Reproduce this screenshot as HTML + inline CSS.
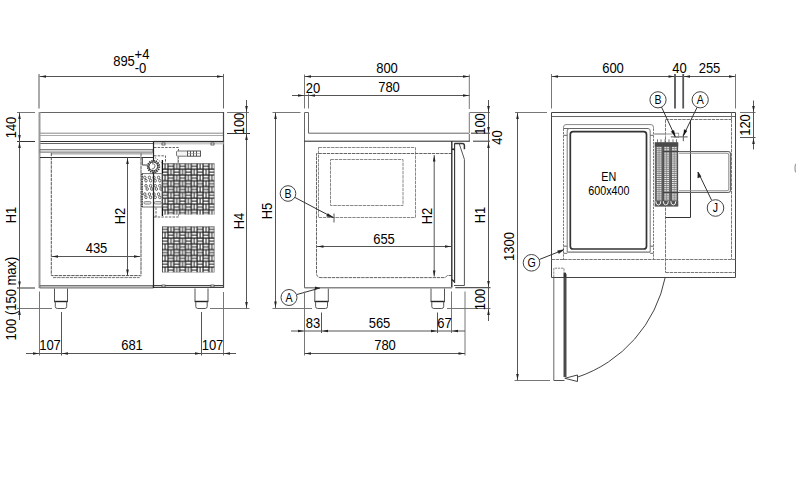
<!DOCTYPE html>
<html><head><meta charset="utf-8"><style>
html,body{margin:0;padding:0;background:#fff;width:796px;height:502px;overflow:hidden}
svg{display:block}
text{font-family:"Liberation Sans",sans-serif}
</style></head><body>
<svg width="796" height="502" viewBox="0 0 796 502">
<rect width="796" height="502" fill="#fff"/>
<line x1="39" y1="74" x2="39" y2="108.5" stroke="#aaa" stroke-width="2"/>
<line x1="223.5" y1="74" x2="223.5" y2="108.5" stroke="#666" stroke-width="1"/>
<line x1="39.5" y1="76.5" x2="223.5" y2="76.5" stroke="#555" stroke-width="1"/>
<polygon points="40.0,76.5 46.0,75.2 46.0,77.8" fill="#222"/>
<polygon points="223.0,76.5 217.0,75.2 217.0,77.8" fill="#222"/>
<text transform="translate(124,66) scale(0.93,1)" font-size="14" text-anchor="middle" fill="#000">895</text>
<text transform="translate(142,59) scale(0.93,1)" font-size="14" text-anchor="middle" fill="#000">+4</text>
<text transform="translate(140.5,72.5) scale(0.93,1)" font-size="14" text-anchor="middle" fill="#000">-0</text>
<line x1="39.5" y1="112.5" x2="223.5" y2="112.5" stroke="#666" stroke-width="1"/>
<line x1="39.5" y1="133.2" x2="223.5" y2="133.2" stroke="#888" stroke-width="1"/>
<line x1="39.5" y1="135.5" x2="223.5" y2="135.5" stroke="#aaa" stroke-width="1"/>
<line x1="39.5" y1="141.5" x2="223.5" y2="141.5" stroke="#333" stroke-width="1"/>
<line x1="40" y1="143.5" x2="153" y2="143.5" stroke="#666" stroke-width="1"/>
<line x1="39.5" y1="112" x2="39.5" y2="288" stroke="#999" stroke-width="2"/>
<line x1="223.5" y1="112" x2="223.5" y2="288" stroke="#444" stroke-width="1.2"/>
<line x1="17" y1="112.5" x2="35" y2="112.5" stroke="#777" stroke-width="1"/>
<line x1="17" y1="141.5" x2="35" y2="141.5" stroke="#333" stroke-width="1"/>
<line x1="17" y1="288" x2="35" y2="288" stroke="#333" stroke-width="1"/>
<line x1="17" y1="308.5" x2="52" y2="308.5" stroke="#777" stroke-width="1"/>
<line x1="19.5" y1="112.5" x2="19.5" y2="320" stroke="#555" stroke-width="1"/>
<polygon points="19.5,113.0 18.2,119.0 20.8,119.0" fill="#222"/>
<polygon points="19.5,141.0 18.2,135.0 20.8,135.0" fill="#222"/>
<polygon points="19.5,142.0 18.2,148.0 20.8,148.0" fill="#222"/>
<polygon points="19.5,287.5 18.2,281.5 20.8,281.5" fill="#222"/>
<polygon points="19.5,309.0 18.2,315.0 20.8,315.0" fill="#222"/>
<text transform="translate(16,127.5) rotate(-90) scale(0.93,1)" font-size="14" text-anchor="middle" fill="#000">140</text>
<text transform="translate(16,215) rotate(-90) scale(0.93,1)" font-size="14" text-anchor="middle" fill="#000">H1</text>
<text transform="translate(16,298.5) rotate(-90) scale(0.93,1)" font-size="14" text-anchor="middle" fill="#000">100 (150 max)</text>
<line x1="227" y1="112.5" x2="249" y2="112.5" stroke="#777" stroke-width="1"/>
<line x1="227" y1="133.5" x2="250" y2="133.5" stroke="#333" stroke-width="1"/>
<line x1="210" y1="308.5" x2="249.5" y2="308.5" stroke="#777" stroke-width="1"/>
<line x1="246.5" y1="100" x2="246.5" y2="308.5" stroke="#555" stroke-width="1"/>
<polygon points="246.5,112.0 245.2,106.0 247.8,106.0" fill="#222"/>
<polygon points="246.5,134.0 245.2,140.0 247.8,140.0" fill="#222"/>
<polygon points="246.5,308.0 245.2,302.0 247.8,302.0" fill="#222"/>
<text transform="translate(244,123.5) rotate(-90) scale(0.93,1)" font-size="14" text-anchor="middle" fill="#000">100</text>
<text transform="translate(244,221) rotate(-90) scale(0.93,1)" font-size="14" text-anchor="middle" fill="#000">H4</text>
<rect x="40" y="149.5" width="113" height="2.7" rx="0" stroke="#777" stroke-width="0.9" fill="#d8d8d8"/>
<rect x="51.5" y="153" width="101" height="1.6" rx="0" stroke="none" stroke-width="0" fill="#b8b8b8"/>
<line x1="40" y1="157.5" x2="153" y2="157.5" stroke="#333" stroke-width="1"/>
<path d="M141,153 L141,275.6 L51.3,275.6 L51.3,153" stroke="#555" stroke-width="1" fill="none" stroke-dasharray="3.4,0.8"/>
<line x1="53" y1="277.6" x2="139.7" y2="277.6" stroke="#777" stroke-width="1" stroke-dasharray="3.4,0.8"/>
<line x1="51.5" y1="256.5" x2="140.5" y2="256.5" stroke="#555" stroke-width="1"/>
<polygon points="52.0,256.5 58.0,255.2 58.0,257.8" fill="#222"/>
<polygon points="140.0,256.5 134.0,255.2 134.0,257.8" fill="#222"/>
<text transform="translate(96.5,253) scale(0.93,1)" font-size="14" text-anchor="middle" fill="#000">435</text>
<line x1="127.5" y1="157.5" x2="127.5" y2="276" stroke="#555" stroke-width="1"/>
<polygon points="127.5,158.0 126.2,164.0 128.8,164.0" fill="#222"/>
<polygon points="127.5,275.5 126.2,269.5 128.8,269.5" fill="#222"/>
<text transform="translate(124.5,216) rotate(-90) scale(0.93,1)" font-size="14" text-anchor="middle" fill="#000">H2</text>
<rect x="40" y="285.5" width="113" height="2.5" rx="0" stroke="#777" stroke-width="1" fill="#bbb"/>
<line x1="153.5" y1="141.5" x2="153.5" y2="288" stroke="#333" stroke-width="1"/>
<line x1="153.5" y1="141.4" x2="223.5" y2="141.4" stroke="#333" stroke-width="1"/>
<rect x="153.5" y="142" width="70" height="2.4" rx="0" stroke="none" stroke-width="0" fill="#c8c8c8"/>
<rect x="153.5" y="285.5" width="70" height="2" rx="0" stroke="#444" stroke-width="1" fill="#ccc"/>
<rect x="162.0" y="143" width="3" height="2" rx="0" stroke="#444" stroke-width="0.8" fill="#fff"/>
<rect x="162.0" y="285" width="3" height="2" rx="0" stroke="#444" stroke-width="0.8" fill="#fff"/>
<rect x="211.0" y="143" width="3" height="2" rx="0" stroke="#444" stroke-width="0.8" fill="#fff"/>
<rect x="211.0" y="285" width="3" height="2" rx="0" stroke="#444" stroke-width="0.8" fill="#fff"/>
<line x1="54.5" y1="288.5" x2="54.5" y2="301.5" stroke="#555" stroke-width="1"/>
<line x1="67.5" y1="288.5" x2="67.5" y2="301.5" stroke="#555" stroke-width="1"/>
<line x1="54.2" y1="301.5" x2="67.8" y2="301.5" stroke="#222" stroke-width="1.4"/>
<path d="M55.3,301.5 L55.3,306.5 Q55.3,308.5 57.3,308.5 L64.7,308.5 Q66.7,308.5 66.7,306.5 L66.7,301.5" stroke="#555" stroke-width="1" fill="none"/>
<line x1="195" y1="288.5" x2="195" y2="301.5" stroke="#555" stroke-width="1"/>
<line x1="208" y1="288.5" x2="208" y2="301.5" stroke="#555" stroke-width="1"/>
<line x1="194.7" y1="301.5" x2="208.3" y2="301.5" stroke="#222" stroke-width="1.4"/>
<path d="M195.8,301.5 L195.8,306.5 Q195.8,308.5 197.8,308.5 L205.2,308.5 Q207.2,308.5 207.2,306.5 L207.2,301.5" stroke="#555" stroke-width="1" fill="none"/>
<line x1="39.5" y1="291.5" x2="39.5" y2="355.5" stroke="#777" stroke-width="1"/>
<line x1="61.5" y1="312" x2="61.5" y2="355.5" stroke="#555" stroke-width="1"/>
<line x1="201.5" y1="312" x2="201.5" y2="355.5" stroke="#555" stroke-width="1"/>
<line x1="223.5" y1="292" x2="223.5" y2="355.5" stroke="#777" stroke-width="1"/>
<line x1="26" y1="353.5" x2="236" y2="353.5" stroke="#555" stroke-width="1"/>
<polygon points="39.0,353.5 33.0,352.2 33.0,354.8" fill="#222"/>
<polygon points="62.0,353.5 68.0,352.2 68.0,354.8" fill="#222"/>
<polygon points="201.0,353.5 195.0,352.2 195.0,354.8" fill="#222"/>
<polygon points="224.0,353.5 230.0,352.2 230.0,354.8" fill="#222"/>
<text transform="translate(50,350) scale(0.93,1)" font-size="14" text-anchor="middle" fill="#000">107</text>
<text transform="translate(132,350) scale(0.93,1)" font-size="14" text-anchor="middle" fill="#000">681</text>
<text transform="translate(212.5,350) scale(0.93,1)" font-size="14" text-anchor="middle" fill="#000">107</text>
<defs><pattern id="weave" x="162" y="163.3" width="11.7" height="11.6" patternUnits="userSpaceOnUse"><rect width="11.7" height="11.6" fill="#151515"/><g fill="#fff"><rect x="0.70" y="0.60" width="1.8" height="4.7"/><rect x="3.50" y="0.60" width="1.8" height="4.7"/><rect x="6.45" y="0.70" width="4.7" height="1.8"/><rect x="6.45" y="3.50" width="4.7" height="1.8"/><rect x="0.60" y="6.50" width="4.7" height="1.8"/><rect x="0.60" y="9.30" width="4.7" height="1.8"/><rect x="6.55" y="6.40" width="1.8" height="4.7"/><rect x="9.35" y="6.40" width="1.8" height="4.7"/></g></pattern><pattern id="weave2" x="162" y="226.4" width="11.7" height="11.6" patternUnits="userSpaceOnUse"><rect width="11.7" height="11.6" fill="#151515"/><g fill="#fff"><rect x="0.60" y="0.70" width="4.7" height="1.8"/><rect x="0.60" y="3.50" width="4.7" height="1.8"/><rect x="6.55" y="0.60" width="1.8" height="4.7"/><rect x="9.35" y="0.60" width="1.8" height="4.7"/><rect x="0.70" y="6.40" width="1.8" height="4.7"/><rect x="3.50" y="6.40" width="1.8" height="4.7"/><rect x="6.45" y="6.50" width="4.7" height="1.8"/><rect x="6.45" y="9.30" width="4.7" height="1.8"/></g></pattern></defs>
<rect x="162" y="163.3" width="52.5" height="51.2" fill="url(#weave)"/>
<rect x="162" y="226.4" width="52.5" height="46" fill="url(#weave2)"/>
<line x1="162.4" y1="160" x2="162.4" y2="216" stroke="#111" stroke-width="1.3"/>
<line x1="160.2" y1="173" x2="160.2" y2="207" stroke="#555" stroke-width="0.8"/>
<path d="M154,147.5 L178.5,147.5 L178.5,163" stroke="#666" stroke-width="1" fill="none" stroke-dasharray="2.5,1.2"/>
<path d="M154,155.8 L165.5,155.8 L165.5,163" stroke="#666" stroke-width="1" fill="none" stroke-dasharray="2.5,1.2"/>
<path d="M154,217 L178.5,217 L178.5,214.5" stroke="#666" stroke-width="1" fill="none" stroke-dasharray="2.5,1.2"/>
<line x1="156" y1="163" x2="156" y2="217" stroke="#666" stroke-width="1" stroke-dasharray="2.5,1.2"/>
<rect x="176.5" y="151" width="11" height="5.2" rx="1" stroke="#777" stroke-width="1" fill="#f4f4f4"/>
<rect x="187.5" y="151" width="13" height="5.2" rx="0" stroke="#555" stroke-width="1" fill="#fff"/>
<line x1="190.5" y1="151" x2="190.5" y2="156.2" stroke="#555" stroke-width="1"/>
<line x1="193.5" y1="151" x2="193.5" y2="156.2" stroke="#555" stroke-width="1"/>
<line x1="196.5" y1="151" x2="196.5" y2="156.2" stroke="#555" stroke-width="1"/>
<line x1="187.5" y1="153.6" x2="200.5" y2="153.6" stroke="#888" stroke-width="0.6"/>
<line x1="178" y1="156.2" x2="178" y2="163" stroke="#999" stroke-width="1"/>
<rect x="142" y="173.6" width="20" height="33.4" rx="0" stroke="#777" stroke-width="1" fill="#fff"/>
<line x1="142" y1="173.6" x2="142" y2="207" stroke="#222" stroke-width="1.3" stroke-dasharray="1.5,1"/>
<ellipse cx="144.8" cy="177.5" rx="1.2" ry="1.4" stroke="#444" stroke-width="0.8" fill="none"/>
<ellipse cx="146.0" cy="180.7" rx="1.2" ry="1.4" stroke="#444" stroke-width="0.8" fill="none"/>
<ellipse cx="149.4" cy="177.5" rx="1.2" ry="1.4" stroke="#444" stroke-width="0.8" fill="none"/>
<ellipse cx="150.6" cy="180.7" rx="1.2" ry="1.4" stroke="#444" stroke-width="0.8" fill="none"/>
<ellipse cx="154.0" cy="177.5" rx="1.2" ry="1.4" stroke="#444" stroke-width="0.8" fill="none"/>
<ellipse cx="155.2" cy="180.7" rx="1.2" ry="1.4" stroke="#444" stroke-width="0.8" fill="none"/>
<ellipse cx="158.6" cy="177.5" rx="1.2" ry="1.4" stroke="#444" stroke-width="0.8" fill="none"/>
<ellipse cx="159.8" cy="180.7" rx="1.2" ry="1.4" stroke="#444" stroke-width="0.8" fill="none"/>
<ellipse cx="146.0" cy="185.8" rx="1.2" ry="1.4" stroke="#444" stroke-width="0.8" fill="none"/>
<ellipse cx="147.2" cy="189.0" rx="1.2" ry="1.4" stroke="#444" stroke-width="0.8" fill="none"/>
<ellipse cx="150.6" cy="185.8" rx="1.2" ry="1.4" stroke="#444" stroke-width="0.8" fill="none"/>
<ellipse cx="151.8" cy="189.0" rx="1.2" ry="1.4" stroke="#444" stroke-width="0.8" fill="none"/>
<ellipse cx="155.2" cy="185.8" rx="1.2" ry="1.4" stroke="#444" stroke-width="0.8" fill="none"/>
<ellipse cx="156.4" cy="189.0" rx="1.2" ry="1.4" stroke="#444" stroke-width="0.8" fill="none"/>
<ellipse cx="159.8" cy="185.8" rx="1.2" ry="1.4" stroke="#444" stroke-width="0.8" fill="none"/>
<ellipse cx="161.0" cy="189.0" rx="1.2" ry="1.4" stroke="#444" stroke-width="0.8" fill="none"/>
<ellipse cx="144.8" cy="194.1" rx="1.2" ry="1.4" stroke="#444" stroke-width="0.8" fill="none"/>
<ellipse cx="146.0" cy="197.3" rx="1.2" ry="1.4" stroke="#444" stroke-width="0.8" fill="none"/>
<ellipse cx="149.4" cy="194.1" rx="1.2" ry="1.4" stroke="#444" stroke-width="0.8" fill="none"/>
<ellipse cx="150.6" cy="197.3" rx="1.2" ry="1.4" stroke="#444" stroke-width="0.8" fill="none"/>
<ellipse cx="154.0" cy="194.1" rx="1.2" ry="1.4" stroke="#444" stroke-width="0.8" fill="none"/>
<ellipse cx="155.2" cy="197.3" rx="1.2" ry="1.4" stroke="#444" stroke-width="0.8" fill="none"/>
<ellipse cx="158.6" cy="194.1" rx="1.2" ry="1.4" stroke="#444" stroke-width="0.8" fill="none"/>
<ellipse cx="159.8" cy="197.3" rx="1.2" ry="1.4" stroke="#444" stroke-width="0.8" fill="none"/>
<rect x="144" y="201.5" width="7" height="2.6" rx="1.2" stroke="#777" stroke-width="0.8" fill="#ddd"/>
<rect x="154.4" y="201.5" width="7" height="2.6" rx="1.2" stroke="#777" stroke-width="0.8" fill="#ddd"/>
<line x1="153.5" y1="141.5" x2="153.5" y2="288" stroke="#222" stroke-width="1.2"/>
<circle cx="153.5" cy="166.6" r="5.5" stroke="#333" stroke-width="2.4" fill="#fff" stroke-dasharray="1.3,0.8"/>
<circle cx="153.3" cy="166.4" r="4.3" stroke="#333" stroke-width="1" fill="#fff"/>
<path d="M152,163.8 Q155.5,163.5 154.8,166.8 Q154,169.5 151.8,169" stroke="#555" stroke-width="0.9" fill="none"/>
<line x1="155" y1="157.5" x2="162" y2="163" stroke="#777" stroke-width="1" stroke-dasharray="1.5,1"/>
<path d="M142.3,157.5 L142.3,165 L147.5,165" stroke="#444" stroke-width="1" fill="none"/>
<line x1="140.8" y1="153" x2="140.8" y2="277" stroke="#aaa" stroke-width="1" stroke-dasharray="2,1.2"/>
<line x1="304.5" y1="74.5" x2="304.5" y2="108.5" stroke="#777" stroke-width="1"/>
<line x1="308.5" y1="93.5" x2="308.5" y2="108.5" stroke="#777" stroke-width="1"/>
<line x1="469.3" y1="74.5" x2="469.3" y2="109" stroke="#777" stroke-width="1"/>
<line x1="469.3" y1="112.5" x2="469.3" y2="133" stroke="#777" stroke-width="1"/>
<line x1="304.5" y1="76.5" x2="469.5" y2="76.5" stroke="#555" stroke-width="1"/>
<polygon points="305.0,76.5 311.0,75.2 311.0,77.8" fill="#222"/>
<polygon points="469.0,76.5 463.0,75.2 463.0,77.8" fill="#222"/>
<line x1="292" y1="95.5" x2="469.5" y2="95.5" stroke="#555" stroke-width="1"/>
<polygon points="304.0,95.5 298.0,94.2 298.0,96.8" fill="#222"/>
<polygon points="309.0,95.5 315.0,94.2 315.0,96.8" fill="#222"/>
<polygon points="469.0,95.5 463.0,94.2 463.0,96.8" fill="#222"/>
<text transform="translate(387,72.5) scale(0.93,1)" font-size="14" text-anchor="middle" fill="#000">800</text>
<text transform="translate(389,92) scale(0.93,1)" font-size="14" text-anchor="middle" fill="#000">780</text>
<text transform="translate(313,92.5) scale(0.93,1)" font-size="14" text-anchor="middle" fill="#000">20</text>
<path d="M304.5,288 L304.5,112.5 L308.5,112.5 L308.5,133.2 L468.5,133.2 L469.3,134 L469.3,141.2" stroke="#666" stroke-width="1" fill="none"/>
<line x1="304.5" y1="141.2" x2="469.8" y2="141.2" stroke="#222" stroke-width="1"/>
<line x1="272.5" y1="112.5" x2="300.5" y2="112.5" stroke="#777" stroke-width="1"/>
<line x1="275.5" y1="112.5" x2="275.5" y2="308" stroke="#555" stroke-width="1"/>
<polygon points="275.5,113.0 274.2,119.0 276.8,119.0" fill="#222"/>
<polygon points="275.5,307.5 274.2,301.5 276.8,301.5" fill="#222"/>
<text transform="translate(272,211) rotate(-90) scale(0.93,1)" font-size="14" text-anchor="middle" fill="#000">H5</text>
<line x1="272.5" y1="308.5" x2="312" y2="308.5" stroke="#777" stroke-width="1"/>
<line x1="469.5" y1="112.5" x2="490" y2="112.5" stroke="#777" stroke-width="1"/>
<line x1="471" y1="133.2" x2="490" y2="133.2" stroke="#333" stroke-width="1"/>
<line x1="473" y1="141.2" x2="490" y2="141.2" stroke="#333" stroke-width="1"/>
<line x1="455.3" y1="287.7" x2="490.5" y2="287.7" stroke="#555" stroke-width="1.2"/>
<line x1="447" y1="308.5" x2="490.5" y2="308.5" stroke="#777" stroke-width="1"/>
<line x1="488.5" y1="100" x2="488.5" y2="321" stroke="#555" stroke-width="1"/>
<polygon points="488.5,112.0 487.2,106.0 489.8,106.0" fill="#222"/>
<polygon points="488.5,133.0 487.2,127.0 489.8,127.0" fill="#222"/>
<polygon points="488.5,142.0 487.2,148.0 489.8,148.0" fill="#222"/>
<polygon points="488.5,287.0 487.2,281.0 489.8,281.0" fill="#222"/>
<polygon points="488.5,309.0 487.2,315.0 489.8,315.0" fill="#222"/>
<text transform="translate(485,124) rotate(-90) scale(0.93,1)" font-size="14" text-anchor="middle" fill="#000">100</text>
<text transform="translate(502,137.5) rotate(-90) scale(0.93,1)" font-size="14" text-anchor="middle" fill="#000">40</text>
<text transform="translate(485,215) rotate(-90) scale(0.93,1)" font-size="14" text-anchor="middle" fill="#000">H1</text>
<text transform="translate(485,299.5) rotate(-90) scale(0.93,1)" font-size="14" text-anchor="middle" fill="#000">100</text>
<rect x="318.5" y="147.5" width="97" height="70" rx="0" stroke="#888" stroke-width="1" fill="none" stroke-dasharray="3.4,0.8"/>
<path d="M452,153.5 L316.5,153.5 L316.5,273 Q316.5,277.6 321,277.6 L445.2,277.6 L447.2,275.5 L451.5,275.5" stroke="#666" stroke-width="1" fill="none" stroke-dasharray="3.4,0.8"/>
<rect x="330.5" y="159.5" width="72.5" height="46" rx="0" stroke="#888" stroke-width="1" fill="none" stroke-dasharray="3.4,0.8"/>
<line x1="434.2" y1="155" x2="434.2" y2="276.5" stroke="#555" stroke-width="1"/>
<polygon points="434.2,155.5 432.9,161.5 435.5,161.5" fill="#222"/>
<polygon points="434.2,276.5 432.9,270.5 435.5,270.5" fill="#222"/>
<text transform="translate(431.5,216) rotate(-90) scale(0.93,1)" font-size="14" text-anchor="middle" fill="#000">H2</text>
<line x1="317" y1="246.5" x2="451" y2="246.5" stroke="#555" stroke-width="1"/>
<polygon points="317.5,246.5 323.5,245.2 323.5,247.8" fill="#222"/>
<polygon points="451.0,246.5 445.0,245.2 445.0,247.8" fill="#222"/>
<text transform="translate(384,244) scale(0.93,1)" font-size="14" text-anchor="middle" fill="#000">655</text>
<line x1="451.8" y1="141.2" x2="451.8" y2="287.5" stroke="#222" stroke-width="1.3"/>
<line x1="452" y1="279.5" x2="454.6" y2="282" stroke="#222" stroke-width="1.2"/>
<line x1="454.6" y1="143.2" x2="454.6" y2="283" stroke="#333" stroke-width="1.1"/>
<rect x="452" y="148.5" width="2.4" height="1.6" rx="0" stroke="none" stroke-width="0" fill="#222"/>
<path d="M454.6,143.4 L462.3,143.4 Q464.4,143.4 464.4,145.6 L464.4,149.2" stroke="#333" stroke-width="1.5" fill="none"/>
<path d="M459.2,143.6 L464.4,159.3 L464.4,285.5" stroke="#555" stroke-width="1" fill="none"/>
<line x1="454" y1="285.5" x2="464.5" y2="285.5" stroke="#555" stroke-width="1"/>
<line x1="304.5" y1="287.7" x2="452" y2="287.7" stroke="#888" stroke-width="1.4"/>
<line x1="314.8" y1="288.5" x2="314.8" y2="301.5" stroke="#555" stroke-width="1"/>
<line x1="328.3" y1="288.5" x2="328.3" y2="301.5" stroke="#555" stroke-width="1"/>
<line x1="314.5" y1="301.5" x2="328.6" y2="301.5" stroke="#222" stroke-width="1.4"/>
<path d="M315.6,301.5 L315.6,306.5 Q315.6,308.5 317.6,308.5 L325.5,308.5 Q327.5,308.5 327.5,306.5 L327.5,301.5" stroke="#555" stroke-width="1" fill="none"/>
<line x1="431" y1="288.5" x2="431" y2="301.5" stroke="#555" stroke-width="1"/>
<line x1="444.5" y1="288.5" x2="444.5" y2="301.5" stroke="#555" stroke-width="1"/>
<line x1="430.7" y1="301.5" x2="444.8" y2="301.5" stroke="#222" stroke-width="1.4"/>
<path d="M431.8,301.5 L431.8,306.5 Q431.8,308.5 433.8,308.5 L441.7,308.5 Q443.7,308.5 443.7,306.5 L443.7,301.5" stroke="#555" stroke-width="1" fill="none"/>
<circle cx="289" cy="297.5" r="8" stroke="#444" stroke-width="1" fill="#fff"/>
<text transform="translate(289,301.9) scale(0.88,1)" font-size="12" text-anchor="middle" fill="#000">A</text>
<line x1="297" y1="294.5" x2="320" y2="288" stroke="#333" stroke-width="1"/>
<polygon points="320.0,288.0 315.0,286.6 315.0,289.4" fill="#222"/>
<circle cx="288" cy="193.5" r="7.8" stroke="#444" stroke-width="1" fill="#fff"/>
<text transform="translate(288,197.9) scale(0.88,1)" font-size="12" text-anchor="middle" fill="#000">B</text>
<line x1="295" y1="197.5" x2="333" y2="217.5" stroke="#333" stroke-width="1"/>
<path d="M333.5,217.6 L327.8,213.6 L326.6,216.2 Z" stroke="#222" stroke-width="0.4" fill="#222"/>
<line x1="334" y1="213.5" x2="334" y2="222.5" stroke="#555" stroke-width="1"/>
<line x1="304.5" y1="291.5" x2="304.5" y2="355.5" stroke="#777" stroke-width="1"/>
<line x1="321.5" y1="312.5" x2="321.5" y2="333" stroke="#555" stroke-width="1"/>
<line x1="437.5" y1="312.5" x2="437.5" y2="333" stroke="#555" stroke-width="1"/>
<line x1="451.5" y1="291.5" x2="451.5" y2="333" stroke="#777" stroke-width="1"/>
<line x1="465" y1="291.5" x2="465" y2="355.5" stroke="#777" stroke-width="1"/>
<line x1="291" y1="331" x2="465" y2="331" stroke="#555" stroke-width="1"/>
<polygon points="304.0,331.0 298.0,329.7 298.0,332.3" fill="#222"/>
<polygon points="322.0,331.0 328.0,329.7 328.0,332.3" fill="#222"/>
<polygon points="437.0,331.0 431.0,329.7 431.0,332.3" fill="#222"/>
<polygon points="452.0,331.0 458.0,329.7 458.0,332.3" fill="#222"/>
<text transform="translate(313,328) scale(0.93,1)" font-size="14" text-anchor="middle" fill="#000">83</text>
<text transform="translate(379.5,328) scale(0.93,1)" font-size="14" text-anchor="middle" fill="#000">565</text>
<text transform="translate(444.5,328) scale(0.93,1)" font-size="14" text-anchor="middle" fill="#000">67</text>
<line x1="304.5" y1="353.5" x2="465" y2="353.5" stroke="#555" stroke-width="1"/>
<polygon points="305.0,353.5 311.0,352.2 311.0,354.8" fill="#222"/>
<polygon points="464.5,353.5 458.5,352.2 458.5,354.8" fill="#222"/>
<text transform="translate(385,350) scale(0.93,1)" font-size="14" text-anchor="middle" fill="#000">780</text>
<line x1="551.5" y1="74" x2="551.5" y2="108.5" stroke="#777" stroke-width="1"/>
<line x1="735.5" y1="74" x2="735.5" y2="108.5" stroke="#777" stroke-width="1"/>
<line x1="675" y1="74" x2="675" y2="108.5" stroke="#555" stroke-width="1.8"/>
<line x1="683.2" y1="74" x2="683.2" y2="108.5" stroke="#555" stroke-width="1.8"/>
<line x1="551.5" y1="76.5" x2="735.5" y2="76.5" stroke="#555" stroke-width="1"/>
<polygon points="552.0,76.5 558.0,75.2 558.0,77.8" fill="#222"/>
<polygon points="674.5,76.5 668.5,75.2 668.5,77.8" fill="#222"/>
<polygon points="684.0,76.5 690.0,75.2 690.0,77.8" fill="#222"/>
<polygon points="735.0,76.5 729.0,75.2 729.0,77.8" fill="#222"/>
<text transform="translate(613,72.8) scale(0.93,1)" font-size="14" text-anchor="middle" fill="#000">600</text>
<text transform="translate(679.5,72.5) scale(0.93,1)" font-size="14" text-anchor="middle" fill="#000">40</text>
<text transform="translate(709.5,72.5) scale(0.93,1)" font-size="14" text-anchor="middle" fill="#000">255</text>
<line x1="551.5" y1="112.5" x2="735.5" y2="112.5" stroke="#444" stroke-width="1"/>
<line x1="551.5" y1="116.5" x2="735.5" y2="116.5" stroke="#666" stroke-width="1"/>
<line x1="551.5" y1="112.5" x2="551.5" y2="277.5" stroke="#444" stroke-width="1"/>
<line x1="735.5" y1="112.5" x2="735.5" y2="277.5" stroke="#444" stroke-width="1"/>
<line x1="731.5" y1="112.5" x2="731.5" y2="119.5" stroke="#777" stroke-width="1"/>
<line x1="665.5" y1="119.5" x2="731.5" y2="119.5" stroke="#777" stroke-width="1" stroke-dasharray="3.4,0.8"/>
<line x1="731.5" y1="119.5" x2="731.5" y2="259.5" stroke="#777" stroke-width="1" stroke-dasharray="3.4,0.8"/>
<line x1="665.5" y1="119.5" x2="665.5" y2="272.5" stroke="#777" stroke-width="1" stroke-dasharray="3.4,0.8"/>
<path d="M690.5,120 L690.5,217.5 L665.5,217.5" stroke="#333" stroke-width="1" fill="none"/>
<line x1="551.5" y1="259.5" x2="735.5" y2="259.5" stroke="#777" stroke-width="1" stroke-dasharray="3.4,0.8"/>
<line x1="665.5" y1="272.5" x2="735.5" y2="272.5" stroke="#777" stroke-width="1" stroke-dasharray="3.4,0.8"/>
<line x1="551.5" y1="277.5" x2="735.5" y2="277.5" stroke="#444" stroke-width="1"/>
<path d="M563.5,128.5 L563.5,127.2 Q563.5,124.6 566,124.6 L651,124.6 Q653.5,124.6 653.5,127.2 L653.5,128.5" stroke="#888" stroke-width="1" fill="none"/>
<line x1="563.5" y1="128.5" x2="648" y2="128.5" stroke="#666" stroke-width="1"/>
<path d="M648,128.5 Q650.2,128.5 650.2,131 L650.2,252.1" stroke="#777" stroke-width="1" fill="none"/>
<path d="M567.2,252.1 L567.2,131 Q567.2,128.5 569.5,128.5" stroke="#777" stroke-width="1" fill="none"/>
<line x1="567.2" y1="252.1" x2="650.2" y2="252.1" stroke="#555" stroke-width="1"/>
<line x1="563.5" y1="135.3" x2="567.2" y2="135.3" stroke="#666" stroke-width="1"/>
<line x1="650.2" y1="135.3" x2="653.5" y2="135.3" stroke="#666" stroke-width="1"/>
<line x1="563.5" y1="246.2" x2="567.2" y2="246.2" stroke="#666" stroke-width="1"/>
<line x1="563.5" y1="253.3" x2="567.2" y2="253.3" stroke="#666" stroke-width="1"/>
<line x1="650.2" y1="246.2" x2="653.5" y2="246.2" stroke="#666" stroke-width="1"/>
<line x1="650.2" y1="253.3" x2="653.5" y2="253.3" stroke="#666" stroke-width="1"/>
<line x1="563.5" y1="128.5" x2="563.5" y2="260" stroke="#777" stroke-width="1" stroke-dasharray="2.4,1"/>
<line x1="653.5" y1="128.5" x2="653.5" y2="260" stroke="#777" stroke-width="1" stroke-dasharray="2.4,1"/>
<rect x="570.3" y="131.7" width="76.2" height="117.3" rx="2.8" stroke="#333" stroke-width="1.7" fill="none"/>
<line x1="653.5" y1="134" x2="665.5" y2="134" stroke="#aaa" stroke-width="1"/>
<text transform="translate(608.7,181) scale(0.87,1)" font-size="12.4" text-anchor="middle" fill="#000">EN</text>
<text transform="translate(608.9,195) scale(0.87,1)" font-size="12.4" text-anchor="middle" fill="#000">600x400</text>
<rect x="654.8" y="142.5" width="23.4" height="64" rx="0" stroke="none" stroke-width="0" fill="#808080"/>
<g fill="#f0f0f0">
<rect x="656.70" y="147.20" width="2" height="1"/>
<rect x="659.40" y="147.20" width="2" height="1"/>
<rect x="664.30" y="147.20" width="2" height="1"/>
<rect x="667.10" y="147.20" width="2" height="1"/>
<rect x="671.90" y="147.20" width="2" height="1"/>
<rect x="674.50" y="147.20" width="2" height="1"/>
<rect x="656.70" y="149.25" width="2" height="1"/>
<rect x="659.40" y="149.25" width="2" height="1"/>
<rect x="664.30" y="149.25" width="2" height="1"/>
<rect x="667.10" y="149.25" width="2" height="1"/>
<rect x="671.90" y="149.25" width="2" height="1"/>
<rect x="674.50" y="149.25" width="2" height="1"/>
<rect x="656.70" y="151.30" width="2" height="1"/>
<rect x="659.40" y="151.30" width="2" height="1"/>
<rect x="664.30" y="151.30" width="2" height="1"/>
<rect x="667.10" y="151.30" width="2" height="1"/>
<rect x="671.90" y="151.30" width="2" height="1"/>
<rect x="674.50" y="151.30" width="2" height="1"/>
<rect x="656.70" y="153.35" width="2" height="1"/>
<rect x="659.40" y="153.35" width="2" height="1"/>
<rect x="664.30" y="153.35" width="2" height="1"/>
<rect x="667.10" y="153.35" width="2" height="1"/>
<rect x="671.90" y="153.35" width="2" height="1"/>
<rect x="674.50" y="153.35" width="2" height="1"/>
<rect x="656.70" y="155.40" width="2" height="1"/>
<rect x="659.40" y="155.40" width="2" height="1"/>
<rect x="664.30" y="155.40" width="2" height="1"/>
<rect x="667.10" y="155.40" width="2" height="1"/>
<rect x="671.90" y="155.40" width="2" height="1"/>
<rect x="674.50" y="155.40" width="2" height="1"/>
<rect x="656.70" y="157.45" width="2" height="1"/>
<rect x="659.40" y="157.45" width="2" height="1"/>
<rect x="664.30" y="157.45" width="2" height="1"/>
<rect x="667.10" y="157.45" width="2" height="1"/>
<rect x="671.90" y="157.45" width="2" height="1"/>
<rect x="674.50" y="157.45" width="2" height="1"/>
<rect x="656.70" y="159.50" width="2" height="1"/>
<rect x="659.40" y="159.50" width="2" height="1"/>
<rect x="664.30" y="159.50" width="2" height="1"/>
<rect x="667.10" y="159.50" width="2" height="1"/>
<rect x="671.90" y="159.50" width="2" height="1"/>
<rect x="674.50" y="159.50" width="2" height="1"/>
<rect x="656.70" y="161.55" width="2" height="1"/>
<rect x="659.40" y="161.55" width="2" height="1"/>
<rect x="664.30" y="161.55" width="2" height="1"/>
<rect x="667.10" y="161.55" width="2" height="1"/>
<rect x="671.90" y="161.55" width="2" height="1"/>
<rect x="674.50" y="161.55" width="2" height="1"/>
<rect x="656.70" y="163.60" width="2" height="1"/>
<rect x="659.40" y="163.60" width="2" height="1"/>
<rect x="664.30" y="163.60" width="2" height="1"/>
<rect x="667.10" y="163.60" width="2" height="1"/>
<rect x="671.90" y="163.60" width="2" height="1"/>
<rect x="674.50" y="163.60" width="2" height="1"/>
<rect x="656.70" y="165.65" width="2" height="1"/>
<rect x="659.40" y="165.65" width="2" height="1"/>
<rect x="664.30" y="165.65" width="2" height="1"/>
<rect x="667.10" y="165.65" width="2" height="1"/>
<rect x="671.90" y="165.65" width="2" height="1"/>
<rect x="674.50" y="165.65" width="2" height="1"/>
<rect x="656.70" y="167.70" width="2" height="1"/>
<rect x="659.40" y="167.70" width="2" height="1"/>
<rect x="664.30" y="167.70" width="2" height="1"/>
<rect x="667.10" y="167.70" width="2" height="1"/>
<rect x="671.90" y="167.70" width="2" height="1"/>
<rect x="674.50" y="167.70" width="2" height="1"/>
<rect x="656.70" y="169.75" width="2" height="1"/>
<rect x="659.40" y="169.75" width="2" height="1"/>
<rect x="664.30" y="169.75" width="2" height="1"/>
<rect x="667.10" y="169.75" width="2" height="1"/>
<rect x="671.90" y="169.75" width="2" height="1"/>
<rect x="674.50" y="169.75" width="2" height="1"/>
<rect x="656.70" y="171.80" width="2" height="1"/>
<rect x="659.40" y="171.80" width="2" height="1"/>
<rect x="664.30" y="171.80" width="2" height="1"/>
<rect x="667.10" y="171.80" width="2" height="1"/>
<rect x="671.90" y="171.80" width="2" height="1"/>
<rect x="674.50" y="171.80" width="2" height="1"/>
<rect x="656.70" y="173.85" width="2" height="1"/>
<rect x="659.40" y="173.85" width="2" height="1"/>
<rect x="664.30" y="173.85" width="2" height="1"/>
<rect x="667.10" y="173.85" width="2" height="1"/>
<rect x="671.90" y="173.85" width="2" height="1"/>
<rect x="674.50" y="173.85" width="2" height="1"/>
<rect x="656.70" y="175.90" width="2" height="1"/>
<rect x="659.40" y="175.90" width="2" height="1"/>
<rect x="664.30" y="175.90" width="2" height="1"/>
<rect x="667.10" y="175.90" width="2" height="1"/>
<rect x="671.90" y="175.90" width="2" height="1"/>
<rect x="674.50" y="175.90" width="2" height="1"/>
<rect x="656.70" y="177.95" width="2" height="1"/>
<rect x="659.40" y="177.95" width="2" height="1"/>
<rect x="664.30" y="177.95" width="2" height="1"/>
<rect x="667.10" y="177.95" width="2" height="1"/>
<rect x="671.90" y="177.95" width="2" height="1"/>
<rect x="674.50" y="177.95" width="2" height="1"/>
<rect x="656.70" y="180.00" width="2" height="1"/>
<rect x="659.40" y="180.00" width="2" height="1"/>
<rect x="664.30" y="180.00" width="2" height="1"/>
<rect x="667.10" y="180.00" width="2" height="1"/>
<rect x="671.90" y="180.00" width="2" height="1"/>
<rect x="674.50" y="180.00" width="2" height="1"/>
<rect x="656.70" y="182.05" width="2" height="1"/>
<rect x="659.40" y="182.05" width="2" height="1"/>
<rect x="664.30" y="182.05" width="2" height="1"/>
<rect x="667.10" y="182.05" width="2" height="1"/>
<rect x="671.90" y="182.05" width="2" height="1"/>
<rect x="674.50" y="182.05" width="2" height="1"/>
<rect x="656.70" y="184.10" width="2" height="1"/>
<rect x="659.40" y="184.10" width="2" height="1"/>
<rect x="664.30" y="184.10" width="2" height="1"/>
<rect x="667.10" y="184.10" width="2" height="1"/>
<rect x="671.90" y="184.10" width="2" height="1"/>
<rect x="674.50" y="184.10" width="2" height="1"/>
<rect x="656.70" y="186.15" width="2" height="1"/>
<rect x="659.40" y="186.15" width="2" height="1"/>
<rect x="664.30" y="186.15" width="2" height="1"/>
<rect x="667.10" y="186.15" width="2" height="1"/>
<rect x="671.90" y="186.15" width="2" height="1"/>
<rect x="674.50" y="186.15" width="2" height="1"/>
<rect x="656.70" y="188.20" width="2" height="1"/>
<rect x="659.40" y="188.20" width="2" height="1"/>
<rect x="664.30" y="188.20" width="2" height="1"/>
<rect x="667.10" y="188.20" width="2" height="1"/>
<rect x="671.90" y="188.20" width="2" height="1"/>
<rect x="674.50" y="188.20" width="2" height="1"/>
<rect x="656.70" y="190.25" width="2" height="1"/>
<rect x="659.40" y="190.25" width="2" height="1"/>
<rect x="664.30" y="190.25" width="2" height="1"/>
<rect x="667.10" y="190.25" width="2" height="1"/>
<rect x="671.90" y="190.25" width="2" height="1"/>
<rect x="674.50" y="190.25" width="2" height="1"/>
<rect x="656.70" y="192.30" width="2" height="1"/>
<rect x="659.40" y="192.30" width="2" height="1"/>
<rect x="664.30" y="192.30" width="2" height="1"/>
<rect x="667.10" y="192.30" width="2" height="1"/>
<rect x="671.90" y="192.30" width="2" height="1"/>
<rect x="674.50" y="192.30" width="2" height="1"/>
<rect x="656.70" y="194.35" width="2" height="1"/>
<rect x="659.40" y="194.35" width="2" height="1"/>
<rect x="664.30" y="194.35" width="2" height="1"/>
<rect x="667.10" y="194.35" width="2" height="1"/>
<rect x="671.90" y="194.35" width="2" height="1"/>
<rect x="674.50" y="194.35" width="2" height="1"/>
<rect x="656.70" y="196.40" width="2" height="1"/>
<rect x="659.40" y="196.40" width="2" height="1"/>
<rect x="664.30" y="196.40" width="2" height="1"/>
<rect x="667.10" y="196.40" width="2" height="1"/>
<rect x="671.90" y="196.40" width="2" height="1"/>
<rect x="674.50" y="196.40" width="2" height="1"/>
<rect x="656.70" y="198.45" width="2" height="1"/>
<rect x="659.40" y="198.45" width="2" height="1"/>
<rect x="664.30" y="198.45" width="2" height="1"/>
<rect x="667.10" y="198.45" width="2" height="1"/>
<rect x="671.90" y="198.45" width="2" height="1"/>
<rect x="674.50" y="198.45" width="2" height="1"/>
</g>
<line x1="656" y1="146" x2="656" y2="201" stroke="#3a3a3a" stroke-width="0.7"/>
<line x1="662.3" y1="146" x2="662.3" y2="201" stroke="#3a3a3a" stroke-width="0.7"/>
<line x1="663.6" y1="146" x2="663.6" y2="201" stroke="#3a3a3a" stroke-width="0.7"/>
<line x1="670" y1="146" x2="670" y2="201" stroke="#3a3a3a" stroke-width="0.7"/>
<line x1="671.3" y1="146" x2="671.3" y2="201" stroke="#3a3a3a" stroke-width="0.7"/>
<line x1="677.5" y1="146" x2="677.5" y2="201" stroke="#3a3a3a" stroke-width="0.7"/>
<rect x="654.8" y="142.3" width="23.4" height="4.3" rx="0" stroke="none" stroke-width="0" fill="#4a4a4a"/>
<line x1="657.5" y1="139.3" x2="657.5" y2="142.5" stroke="#555" stroke-width="0.8"/>
<line x1="661" y1="139.3" x2="661" y2="142.5" stroke="#555" stroke-width="0.8"/>
<line x1="665" y1="139.3" x2="665" y2="142.5" stroke="#555" stroke-width="0.8"/>
<line x1="669" y1="139.3" x2="669" y2="142.5" stroke="#555" stroke-width="0.8"/>
<line x1="673" y1="139.3" x2="673" y2="142.5" stroke="#555" stroke-width="0.8"/>
<line x1="676.5" y1="139.3" x2="676.5" y2="142.5" stroke="#555" stroke-width="0.8"/>
<rect x="654.8" y="201" width="23.4" height="5.4" rx="0" stroke="none" stroke-width="0" fill="#555"/>
<path d="M655.8,201.2 Q655.8,205 658.3,205 Q660.8,205 660.8,201.2" stroke="#eee" stroke-width="1" fill="none"/>
<path d="M663.3,201.2 Q663.3,205 665.8,205 Q668.3,205 668.3,201.2" stroke="#eee" stroke-width="1" fill="none"/>
<path d="M670.8,201.2 Q670.8,205 673.3,205 Q675.8,205 675.8,201.2" stroke="#eee" stroke-width="1" fill="none"/>
<line x1="654.5" y1="134" x2="672.4" y2="134" stroke="#999" stroke-width="1"/>
<line x1="670.8" y1="136.9" x2="687.6" y2="136.9" stroke="#555" stroke-width="1"/>
<rect x="674.4" y="133.2" width="4.3" height="4.4" rx="0" stroke="#888" stroke-width="0.8" fill="none"/>
<line x1="683.3" y1="134.5" x2="683.3" y2="141.2" stroke="#555" stroke-width="1"/>
<line x1="663" y1="151.5" x2="679" y2="151.5" stroke="#444" stroke-width="1.1"/>
<line x1="663" y1="192.5" x2="679" y2="192.5" stroke="#444" stroke-width="1.1"/>
<path d="M679,151.5 L728,151.5 Q730.5,151.5 730.5,154 L730.5,190 Q730.5,192.5 728,192.5 L679,192.5" stroke="#666" stroke-width="1.1" fill="none"/>
<path d="M679,153.2 L727,153.2 Q728.8,153.2 728.8,155 L728.8,189 Q728.8,190.8 727,190.8 L679,190.8" stroke="#888" stroke-width="1" fill="none"/>
<circle cx="658" cy="99.8" r="8.1" stroke="#444" stroke-width="1" fill="#fff"/>
<text transform="translate(658,104.2) scale(0.88,1)" font-size="12" text-anchor="middle" fill="#000">B</text>
<circle cx="700.2" cy="99.8" r="8.1" stroke="#444" stroke-width="1" fill="#fff"/>
<text transform="translate(700.2,104.2) scale(0.88,1)" font-size="12" text-anchor="middle" fill="#000">A</text>
<line x1="661.5" y1="107" x2="675.2" y2="136.5" stroke="#333" stroke-width="1"/>
<path d="M675.2,136.7 L671.2,131.6 L673.9,130.4 Z" stroke="#111" stroke-width="0.4" fill="#111"/>
<line x1="697" y1="107.5" x2="683.4" y2="135.5" stroke="#333" stroke-width="1"/>
<path d="M683.4,135.7 L684.3,129.6 L686.9,130.9 Z" stroke="#111" stroke-width="0.4" fill="#111"/>
<circle cx="715.5" cy="208" r="8.3" stroke="#444" stroke-width="1" fill="#fff"/>
<text transform="translate(715.5,212.4) scale(0.88,1)" font-size="12" text-anchor="middle" fill="#000">J</text>
<line x1="711.5" y1="200" x2="698" y2="172" stroke="#333" stroke-width="1"/>
<path d="M698,172 L697.8,178 L701,176.5 Z" stroke="#222" stroke-width="0.5" fill="#222"/>
<circle cx="531.5" cy="262.8" r="8.3" stroke="#444" stroke-width="1" fill="#fff"/>
<text transform="translate(531.5,267.2) scale(0.88,1)" font-size="12" text-anchor="middle" fill="#000">G</text>
<line x1="539.3" y1="259.5" x2="563.5" y2="249.9" stroke="#333" stroke-width="1"/>
<path d="M563.8,249.8 L557.6,250.8 L558.8,253.6 Z" stroke="#222" stroke-width="0.5" fill="#222"/>
<line x1="740" y1="112.5" x2="755.5" y2="112.5" stroke="#777" stroke-width="1"/>
<line x1="740" y1="137.5" x2="755.5" y2="137.5" stroke="#555" stroke-width="1"/>
<line x1="753.5" y1="100.5" x2="753.5" y2="149.5" stroke="#555" stroke-width="1"/>
<polygon points="753.5,112.0 752.2,106.0 754.8,106.0" fill="#222"/>
<polygon points="753.5,138.0 752.2,144.0 754.8,144.0" fill="#222"/>
<text transform="translate(750,125) rotate(-90) scale(0.93,1)" font-size="14" text-anchor="middle" fill="#000">120</text>
<line x1="515" y1="112.5" x2="547" y2="112.5" stroke="#777" stroke-width="1"/>
<line x1="514.5" y1="380.5" x2="550" y2="380.5" stroke="#777" stroke-width="1"/>
<line x1="517.5" y1="112.5" x2="517.5" y2="380.5" stroke="#555" stroke-width="1"/>
<polygon points="517.5,113.0 516.2,119.0 518.8,119.0" fill="#222"/>
<polygon points="517.5,380.0 516.2,374.0 518.8,374.0" fill="#222"/>
<text transform="translate(514,246.5) rotate(-90) scale(0.93,1)" font-size="14" text-anchor="middle" fill="#000">1300</text>
<line x1="553.8" y1="277.5" x2="553.8" y2="380.5" stroke="#666" stroke-width="1"/>
<line x1="553.8" y1="380.5" x2="564.5" y2="380.5" stroke="#555" stroke-width="1"/>
<path d="M553.8,277 L553.8,268.2 L564,268.2 L564,272" stroke="#888" stroke-width="1" fill="none" stroke-dasharray="2.4,0.8"/>
<line x1="565" y1="277" x2="565" y2="377" stroke="#4a4a4a" stroke-width="3"/>
<path d="M563.5,272.5 L565.5,272.5 L566.5,274.5 L566.5,277.5 L563.5,277.5 Z" stroke="none" stroke-width="0" fill="#333"/>
<path d="M665.3,277 A133,133 0 0 1 577,377.3" stroke="#444" stroke-width="1" fill="none"/>
<path d="M564.8,378.3 L577.5,375 L577.5,381.5 Z" stroke="#444" stroke-width="1" fill="#fff"/>
<path d="M797,163.5 Q795,163.5 795,168 Q795,172.5 797,172.5" stroke="#999" stroke-width="1.2" fill="none"/>
</svg></body></html>
